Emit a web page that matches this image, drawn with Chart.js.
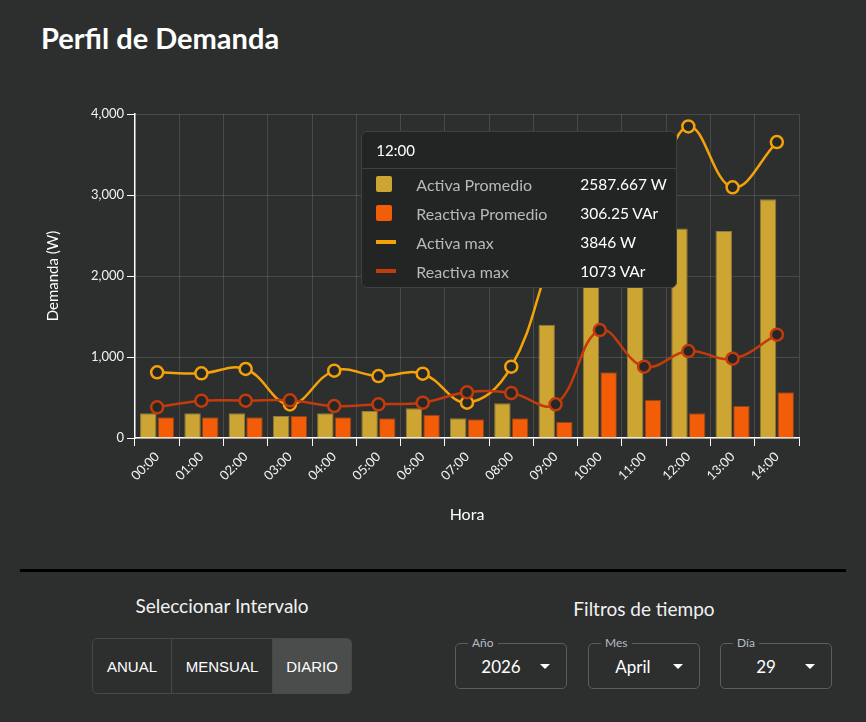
<!DOCTYPE html>
<html>
<head>
<meta charset="utf-8">
<script src="https://cdn.jsdelivr.net/npm/chart.js@4.4.1/dist/chart.umd.min.js"></script>
<style>
  html, body { margin:0; padding:0; background:#2d2f2f; width:866px; height:722px; overflow:hidden; font-family: Lato, "Noto Sans", sans-serif; color:#fff; }
  #title { position:absolute; left:41px; top:20px; font-size:29px; font-weight:700; letter-spacing:0; white-space:nowrap; }
  #wrap { position:absolute; left:20px; top:90px; width:826px; height:450px; }
  #sep { position:absolute; left:20px; top:569px; width:826px; height:3px; background:#000; }
  .h2 { position:absolute; font-size:19px; white-space:nowrap; transform:translate(-50%,-50%); color:#f2f2f2; }
  #btns { position:absolute; left:92px; top:638px; width:258px; height:54px; border:1px solid #474949; border-radius:5px; display:flex; overflow:hidden; font-family:"Liberation Sans", Arial, sans-serif; font-size:15px; }
  #btns div { display:flex; align-items:center; justify-content:center; height:100%; color:#fff; }
  #btns .b1 { width:78px; border-right:1px solid #474949; }
  #btns .b2 { width:100px; border-right:1px solid #474949; }
  #btns .b3 { flex:1; background:#4b4d4d; }
  .sel { position:absolute; top:643px; width:110px; height:44px; border:1px solid #5b5d5d; border-radius:5px; }
  .sel .lab { position:absolute; left:12px; top:-9px; padding:0 4px; background:#2d2f2f; font-size:12px; color:#b4bcc4; line-height:16px; }
  .sel .val { position:absolute; top:50%; transform:translate(-50%,-50%); font-size:17px; color:#fff; white-space:nowrap; }
  .sel .arr { position:absolute; right:16px; top:20px; width:0; height:0; border-left:5px solid transparent; border-right:5px solid transparent; border-top:5px solid #fff; }
  #tt { position:absolute; background:#232525; border:1px solid #3f4141; border-radius:6px; width:314px; height:155px; pointer-events:none; box-sizing:content-box; font-family: Lato, "Noto Sans", sans-serif; }
  #tt .tt-title { position:absolute; left:14px; top:0; height:36px; line-height:36px; font-size:15px; color:#fff; }
  #tt .tt-div { position:absolute; left:0; right:0; top:36px; height:1px; background:#3f4141; }
  #tt .row { position:absolute; left:0; right:0; height:29px; }
  #tt .mk { position:absolute; left:14px; }
  #tt .lb { position:absolute; left:54px; top:0; line-height:29px; font-size:16px; color:#b9b9b9; white-space:nowrap; }
  #tt .vl { position:absolute; left:218px; top:0; line-height:29px; font-size:15.5px; color:#fff; white-space:nowrap; }
</style>
</head>
<body>
<div id="title">Perfil de Demanda</div>
<div id="wrap"><canvas id="c" width="826" height="450"></canvas></div>
<div id="sep"></div>
<div class="h2" style="left:222px; top:605px;">Seleccionar Intervalo</div>
<div id="btns"><div class="b1">ANUAL</div><div class="b2">MENSUAL</div><div class="b3">DIARIO</div></div>
<div class="h2" style="left:644px; top:608px;">Filtros de tiempo</div>
<div class="sel" style="left:455px;"><span class="lab">Año</span><span class="val" style="left:45px;">2026</span><span class="arr"></span></div>
<div class="sel" style="left:588px;"><span class="lab">Mes</span><span class="val" style="left:44px;">April</span><span class="arr"></span></div>
<div class="sel" style="left:720px;"><span class="lab">Día</span><span class="val" style="left:45px;">29</span><span class="arr"></span></div>
<script>
const hours = ['00:00','01:00','02:00','03:00','04:00','05:00','06:00','07:00','08:00','09:00','10:00','11:00','12:00','13:00','14:00'];
const activaPromedio   = [305, 305, 305, 272, 305, 333, 366, 243, 428, 1399, 2250, 2150, 2587.667, 2556, 2947];
const reactivaPromedio = [255, 255, 255, 272, 255, 243, 288, 230, 243, 198, 811, 473, 306.25, 395, 564];
const activaMax        = [811, 798, 852, 415, 831, 765, 794, 436, 880, 2350, 3300, 2900, 3846, 3095, 3654];
const reactivaMax      = [379, 461, 461, 465, 395, 416, 436, 564, 555, 416, 1333, 880, 1073, 979, 1276];
const yTickValues = [0, 1000, 2000, 3000, 4000];
const units = ['W', 'VAr', 'W', 'VAr'];
const activeHour = '12:00';

const FONT = 'Lato, "Noto Sans", sans-serif';

function externalTooltip(context) {
  const { chart, tooltip } = context;
  let el = document.getElementById('tt');
  if (!el) {
    el = document.createElement('div');
    el.id = 'tt';
    document.getElementById('wrap').appendChild(el);
  }
  if (tooltip.opacity === 0 || !tooltip.dataPoints || !tooltip.dataPoints.length) { el.style.display = 'none'; return; }
  el.style.display = 'block';
  let html = '<div class="tt-title">' + tooltip.title[0] + '</div><div class="tt-div"></div>';
  tooltip.dataPoints.forEach((dp, i) => {
    const ds = dp.dataset;
    const isLine = ds.type === 'line';
    const col = isLine ? ds.borderColor : ds.backgroundColor;
    const mk = isLine
      ? '<div class="mk" style="top:12px;width:20px;height:4px;background:' + col + ';"></div>'
      : '<div class="mk" style="top:6px;width:16px;height:16px;border-radius:2px;background:' + col + ';"></div>';
    html += '<div class="row" style="top:' + (38 + i * 29) + 'px;">' + mk +
      '<div class="lb">' + ds.label + '</div><div class="vl">' + dp.raw + ' ' + units[dp.datasetIndex] + '</div></div>';
  });
  el.innerHTML = html;
  el.style.left = (tooltip.caretX - 316 - 11) + 'px';
  el.style.top = (chart.chartArea.top + 17) + 'px';
}

const chart = new Chart(document.getElementById('c'), {
  data: {
    labels: hours,
    datasets: [
      { type:'bar', label:'Activa Promedio', data: activaPromedio, backgroundColor:'#cda533', borderColor:'#8e7b3e', borderWidth:1, order:3, barPercentage:0.93, categoryPercentage:0.8 },
      { type:'bar', label:'Reactiva Promedio', data: reactivaPromedio, backgroundColor:'#f45d08', borderColor:'#8f4318', borderWidth:1, order:3, barPercentage:0.93, categoryPercentage:0.8 },
      { type:'line', label:'Activa max', data: activaMax, borderColor:'#f5a20a', backgroundColor:'#f5a20a', borderWidth:2.5, tension:0.4,
        pointRadius:6, pointBackgroundColor:'#262828', pointBorderColor:'#f5a20a', pointBorderWidth:2.5, order:2 },
      { type:'line', label:'Reactiva max', data: reactivaMax, borderColor:'#c33b0b', backgroundColor:'#c33b0b', borderWidth:2.5, tension:0.4,
        pointRadius:6, pointBackgroundColor:'#262828', pointBorderColor:'#c33b0b', pointBorderWidth:2.5, order:1 }
    ]
  },
  options: {
    responsive:false,
    animation:false,
    layout:{ padding:{ left:0, right:47, top:24, bottom:0 } },
    interaction:{ mode:'index', intersect:false },
    plugins:{
      legend:{ display:false },
      tooltip:{ enabled:false, external: externalTooltip, mode:'index', intersect:false }
    },
    scales:{
      x:{
        grid:{ color:'rgba(255,255,255,0.13)', tickColor:'#ffffff', tickLength:8, offset:true },
        border:{ color:'#ffffff', width:1.5 },
        ticks:{ color:'#f2f2f2', font:{ size:13, family:FONT }, maxRotation:45, minRotation:45, autoSkip:false },
        title:{ display:true, text:'Hora', color:'#ffffff', font:{ size:16, family:FONT }, padding:{ top:0, bottom:16 } },
        afterFit(s){ s.height = 102; }
      },
      y:{
        min:0, max:4000,
        afterBuildTicks(s){ s.ticks = yTickValues.map(v => ({ value:v })); },
        grid:{ color:'rgba(255,255,255,0.13)', tickColor:'#ffffff', tickLength:8 },
        border:{ color:'#ffffff', width:1.5 },
        ticks:{ color:'#f2f2f2', font:{ size:13, family:FONT }, padding:3, callback:(v)=>Number(v).toLocaleString('en-US') },
        title:{ display:true, text:'Demanda (W)', color:'#ffffff', font:{ size:15, family:FONT }, padding:{ top:24, bottom:0 } },
        afterFit(s){ s.width = 115; }
      }
    }
  }
});

const idx = hours.indexOf(activeHour);
chart.tooltip.setActiveElements([0,1,2,3].map(d => ({ datasetIndex:d, index:idx })), { x:0, y:0 });
chart.update();
</script>
</body>
</html>
